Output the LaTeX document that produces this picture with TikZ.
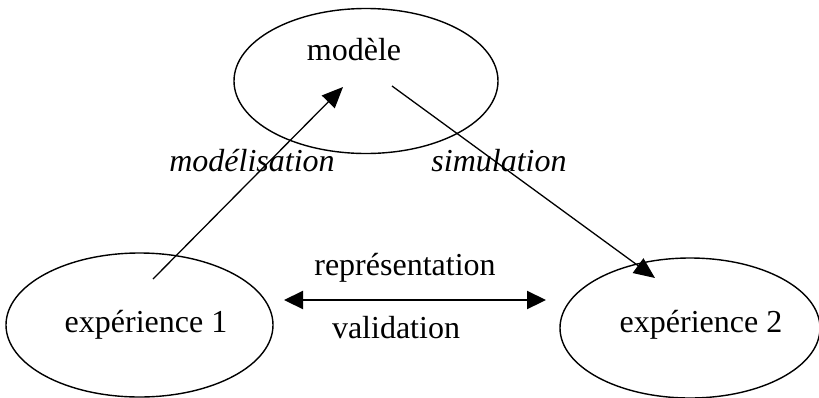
\documentclass[tikz,border=0pt]{standalone}
\usepackage{fontspec}
\setmainfont{Liberation Serif}
\usetikzlibrary{shapes.geometric,arrows.meta}

\begin{document}
\begin{tikzpicture}[
    x=1pt, y=-1pt,
    bubble/.style={ellipse, draw, line width=1.4pt, inner sep=0pt},
    txt/.style={font=\fontsize{32}{38}\selectfont, inner sep=0pt},
    edgelabel/.style={txt, font=\fontsize{32}{38}\selectfont\itshape},
    flow/.style={-{Triangle[length=21pt,width=18pt]}, line width=1.3pt},
    twoway/.style={{Triangle[length=19pt,width=18pt]}-{Triangle[length=19pt,width=18pt]}, line width=2.2pt}
]
\useasboundingbox (0,0) rectangle (819,397);

% === ELLIPSES ===
\node[bubble, minimum width=264pt, minimum height=145pt] (modele) at (366,81) {};
\node[txt] (modeletxt) at (354,50) {modèle};

\node[bubble, minimum width=267pt, minimum height=144pt] (exp1) at (139.5,325) {};
\node[txt] (exp1txt) at (146,325) {expérience 1};

\node[bubble, minimum width=260pt, minimum height=140pt] (exp2) at (690,328) {};
\node[txt] (exp2txt) at (701,325) {expérience 2};

% arrow ends (inside the ellipses)
\coordinate (modin) at (153,279);
\coordinate (modout) at (343,87);
\coordinate (simin) at (392,86);
\coordinate (simout) at (655,278);
\coordinate (repl) at (284,300);
\coordinate (repr) at (546,300);

% === ARROWS ===
\draw[flow] (modin) -- (modout);
\draw[flow] (simin) -- (simout);
\draw[twoway] (repl) -- (repr);

% === LABELS ===
\node[edgelabel] (lmod) at (252,161) {modélisation};
\node[edgelabel] (lsim) at (499,161) {simulation};
\node[txt] (lrep) at (405,268) {représentation};
\node[txt] (lval) at (396,328) {validation};

\end{tikzpicture}
\end{document}
